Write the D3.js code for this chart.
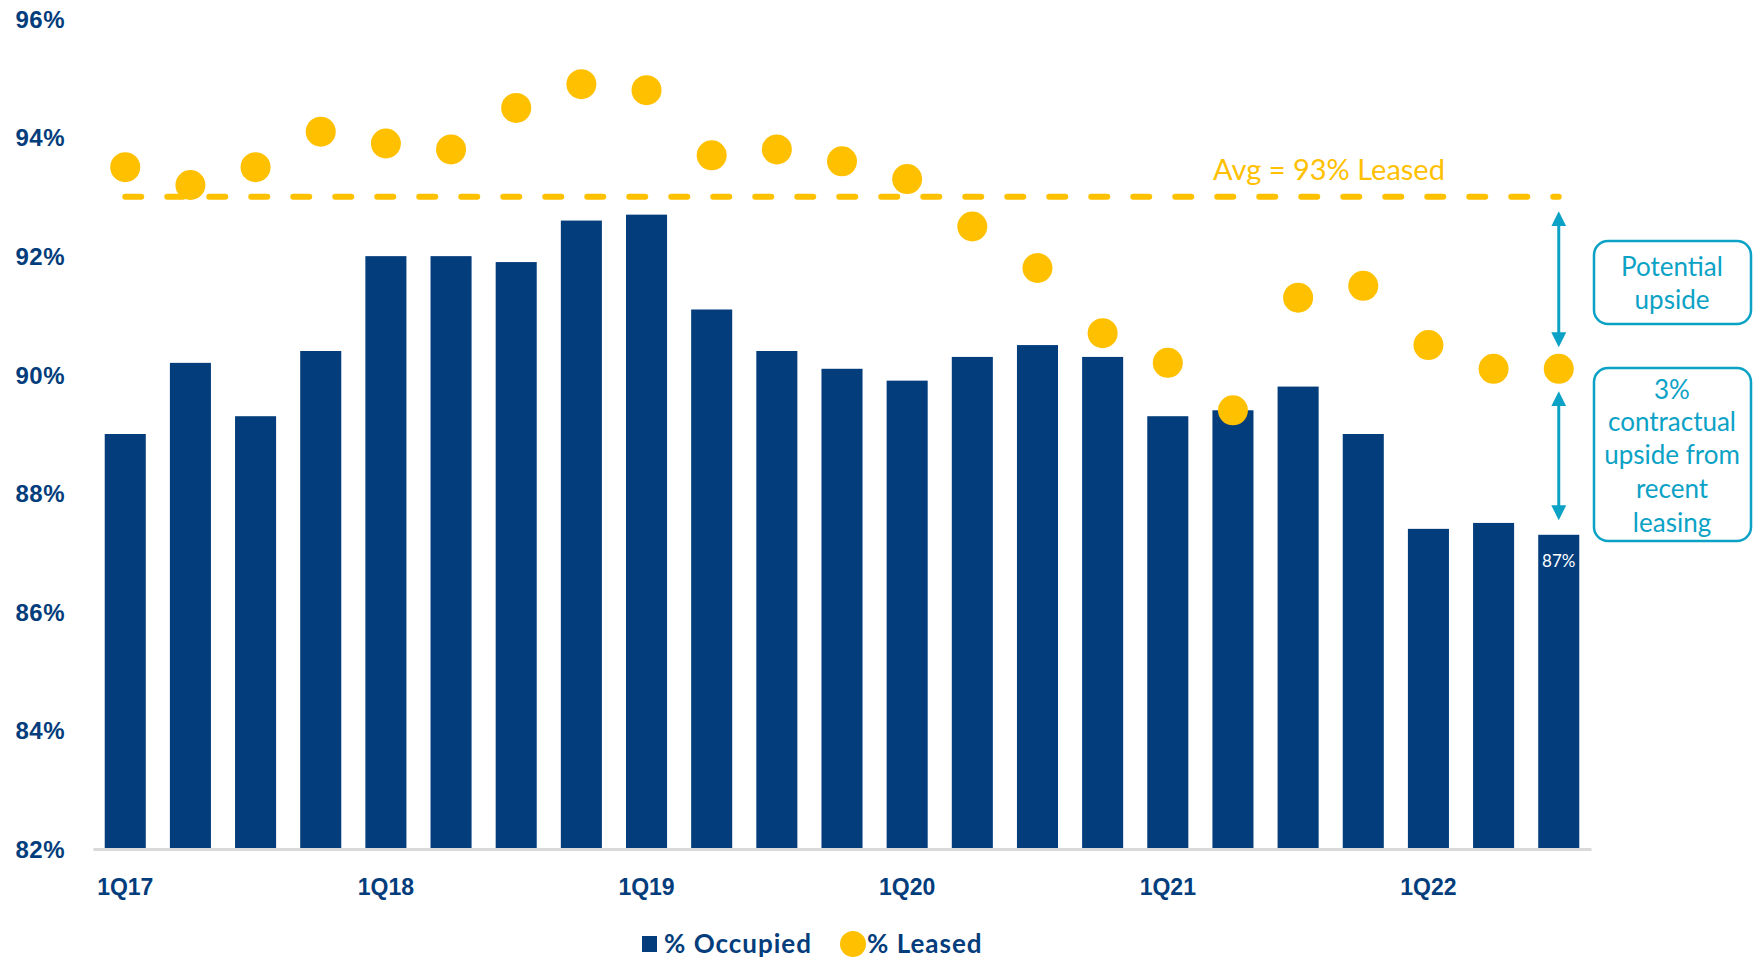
<!DOCTYPE html>
<html>
<head>
<meta charset="utf-8">
<script src="https://cdn.jsdelivr.net/npm/d3@7"></script>
<style>
  body { margin: 0; background: #fff; }
  svg { display: block; font-family: Lato, "Noto Sans", sans-serif; }
</style>
</head>
<body>
<div class="js-chart"></div>
<script>
// quarters shown on the chart
const quarters = [
  '1Q17', '2Q17', '3Q17', '4Q17',
  '1Q18', '2Q18', '3Q18', '4Q18',
  '1Q19', '2Q19', '3Q19', '4Q19',
  '1Q20', '2Q20', '3Q20', '4Q20',
  '1Q21', '2Q21', '3Q21', '4Q21',
  '1Q22', '2Q22', '3Q22'
];
const occupied = [89.0, 90.2, 89.3, 90.4, 92.0, 92.0, 91.9, 92.6, 92.7, 91.1, 90.4, 90.1,
  89.9, 90.3, 90.5, 90.3, 89.3, 89.4, 89.8, 89.0, 87.4, 87.5, 87.3];
const leased = [93.5, 93.2, 93.5, 94.1, 93.9, 93.8, 94.5, 94.9, 94.8, 93.7, 93.8, 93.6,
  93.3, 92.5, 91.8, 90.7, 90.2, 89.4, 91.3, 91.5, 90.5, 90.1, 90.1];
const yTicks = [82, 84, 86, 88, 90, 92, 94, 96];
const xLabels = ['1Q17', '1Q18', '1Q19', '1Q20', '1Q21', '1Q22'];
const avgLeased = 93;
const lastLabel = '87%';

const NAVY = '#033d7c';
const GOLD = '#ffc000';
const TEAL = '#0ba2c6';

const WIDTH = 1759;
const HEIGHT = 960;

const svg = d3.select('.js-chart').append('svg')
  .attr('width', WIDTH)
  .attr('height', HEIGHT);

// scales
const xScale = d3.scaleBand()
  .domain(quarters)
  .range([93, 1591])
  .paddingInner(0.37)
  .paddingOuter(0.18);

const yScale = d3.scaleLinear()
  .domain([82, 96])
  .range([849, 19]);

const cx = q => xScale(q) + xScale.bandwidth() / 2;

// y axis (labels only)
const yAxis = d3.axisLeft(yScale)
  .tickValues(yTicks)
  .tickFormat(d => d + '%')
  .tickSize(0)
  .tickPadding(0);

svg.append('g')
  .attr('class', 'y axis')
  .attr('transform', 'translate(65,0)')
  .call(yAxis)
  .call(g => g.select('.domain').remove())
  .call(g => g.selectAll('text')
    .attr('fill', NAVY)
    .attr('font-size', 24)
    .attr('font-weight', 700)
    .attr('letter-spacing', 0.5)
    .attr('dy', '0.35em'));

// bars
svg.append('g')
  .selectAll('rect')
  .data(quarters)
  .join('rect')
  .attr('x', d => xScale(d))
  .attr('y', (d, i) => yScale(occupied[i]))
  .attr('width', xScale.bandwidth())
  .attr('height', (d, i) => yScale(82) - yScale(occupied[i]))
  .attr('fill', NAVY);

// x axis
const xAxis = d3.axisBottom(xScale)
  .tickValues(xLabels)
  .tickSize(0)
  .tickPadding(0);

svg.append('g')
  .attr('class', 'x axis')
  .attr('transform', 'translate(0,' + yScale(82) + ')')
  .call(xAxis)
  .call(g => g.select('.domain')
    .attr('stroke', '#d9d9d9')
    .attr('stroke-width', 3))
  .call(g => g.selectAll('text')
    .attr('fill', NAVY)
    .attr('font-size', 23)
    .attr('font-weight', 700)
    .attr('y', 38)
    .attr('dy', '0.35em'));

// average leased line
const avgY = yScale(avgLeased);
svg.append('line')
  .attr('x1', cx(quarters[0]))
  .attr('x2', cx(quarters[quarters.length - 1]))
  .attr('y1', avgY)
  .attr('y2', avgY)
  .attr('stroke', GOLD)
  .attr('stroke-width', 6)
  .attr('stroke-linecap', 'round')
  .attr('stroke-dasharray', '16,26');

svg.append('text')
  .attr('x', 1329)
  .attr('y', avgY - 17)
  .attr('text-anchor', 'middle')
  .attr('fill', GOLD)
  .attr('font-size', 29)
  .text('Avg = 93% Leased');

// leased dots
svg.append('g')
  .selectAll('circle')
  .data(quarters)
  .join('circle')
  .attr('cx', d => cx(d))
  .attr('cy', (d, i) => yScale(leased[i]))
  .attr('r', 15)
  .attr('fill', GOLD);

// last bar value label
const lastQ = quarters[quarters.length - 1];
svg.append('text')
  .attr('x', cx(lastQ))
  .attr('y', yScale(occupied[occupied.length - 1]) + 32)
  .attr('text-anchor', 'middle')
  .attr('fill', '#fff')
  .attr('font-size', 17)
  .text(lastLabel);

// arrows
const defs = svg.append('defs');
defs.append('marker')
  .attr('id', 'arrowHead')
  .attr('viewBox', '0 0 10 10')
  .attr('refX', 5).attr('refY', 5)
  .attr('markerWidth', 5).attr('markerHeight', 5)
  .attr('orient', 'auto-start-reverse')
  .attr('markerUnits', 'strokeWidth')
  .append('path')
  .attr('d', 'M0,0 L10,5 L0,10 Z')
  .attr('fill', TEAL);

const arrowX = cx(lastQ);
const drawArrow = (yTop, yBottom) => {
  svg.append('line')
    .attr('x1', arrowX).attr('x2', arrowX)
    .attr('y1', yTop).attr('y2', yBottom)
    .attr('stroke', TEAL)
    .attr('stroke-width', 3)
    .attr('marker-start', 'url(#arrowHead)')
    .attr('marker-end', 'url(#arrowHead)');
};
drawArrow(yScale(avgLeased) + 22, yScale(leased[leased.length - 1]) - 29);
drawArrow(yScale(leased[leased.length - 1]) + 30, yScale(occupied[occupied.length - 1]) - 22);

// annotation boxes
const drawBox = (y, h, lines, lineY) => {
  svg.append('rect')
    .attr('x', 1594).attr('y', y)
    .attr('width', 157).attr('height', h)
    .attr('rx', 14)
    .attr('fill', '#fff')
    .attr('stroke', TEAL)
    .attr('stroke-width', 2.5);
  svg.append('g')
    .selectAll('text')
    .data(lines)
    .join('text')
    .attr('x', 1672)
    .attr('y', (d, i) => lineY[i])
    .attr('dy', '0.35em')
    .attr('text-anchor', 'middle')
    .attr('fill', TEAL)
    .attr('font-size', 26)
    .text(d => d);
};
drawBox(241, 83, ['Potential', 'upside'], [267, 300]);
drawBox(368, 173, ['3%', 'contractual', 'upside from', 'recent', 'leasing'], [390, 422, 455, 489, 523]);

// legend
const legend = svg.append('g').attr('transform', 'translate(0,944)');
legend.append('rect')
  .attr('x', 642).attr('y', -8)
  .attr('width', 15).attr('height', 16)
  .attr('fill', NAVY);
legend.append('text')
  .attr('x', 664).attr('y', 0).attr('dy', '0.35em')
  .attr('fill', NAVY)
  .attr('font-size', 26)
  .attr('font-weight', 700)
  .attr('letter-spacing', 1)
  .text('% Occupied');
legend.append('circle')
  .attr('cx', 853).attr('cy', 0)
  .attr('r', 13)
  .attr('fill', GOLD);
legend.append('text')
  .attr('x', 867).attr('y', 0).attr('dy', '0.35em')
  .attr('fill', NAVY)
  .attr('font-size', 26)
  .attr('font-weight', 700)
  .attr('letter-spacing', 1)
  .text('% Leased');
</script>
</body>
</html>
